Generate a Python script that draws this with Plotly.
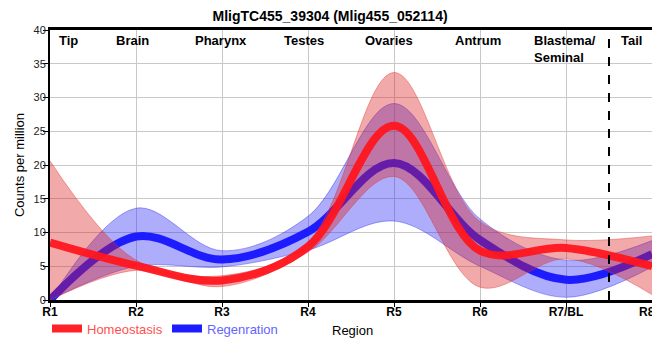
import plotly.graph_objects as go

# ---- data ----
regions = ["R1", "R2", "R3", "R4", "R5", "R6", "R7/BL", "R8/T"]
xpos = [1, 2, 3, 4, 5, 6, 7, 8]

homeo_mean = [8.5, 5.1, 2.9, 7.9, 25.8, 7.3, 7.7, 5.0]
homeo_upper = [20.6, 5.9, 3.6, 8.6, 33.7, 11.6, 8.9, 9.5]
homeo_lower = [0.0, 4.4, 2.0, 7.1, 18.3, 1.9, 6.1, 0.8]

regen_mean = [0.0, 9.4, 6.0, 10.1, 20.3, 8.9, 3.0, 6.8]
regen_upper = [0.0, 13.6, 7.3, 12.4, 29.1, 12.0, 5.9, 8.8]
regen_lower = [0.0, 5.0, 4.9, 7.4, 11.7, 5.0, 0.4, 4.9]

region_labels = ["Tip", "Brain", "Pharynx", "Testes", "Ovaries", "Antrum", "Blastema/<br>Seminal", "Tail"]
region_label_x = [1.21, 1.96, 2.99, 3.95, 4.94, 5.98, 6.99, 7.76]
tail_boundary = 7.5

title = "MligTC455_39304 (Mlig455_052114)"

NARROW = "Liberation Sans Narrow, Arial Narrow, Liberation Sans, Arial, sans-serif"
ARIAL = "Liberation Sans, Arial, sans-serif"

SM = 1.0
fig = go.Figure()

# Regeneration band
fig.add_trace(go.Scatter(x=xpos, y=regen_lower, mode="lines", line=dict(shape="spline", smoothing=SM, width=1, color="rgba(60,60,240,0.45)"),
                         showlegend=False, hoverinfo="skip"))
fig.add_trace(go.Scatter(x=xpos, y=regen_upper, mode="lines", fill="tonexty", fillcolor="rgba(40,40,245,0.38)",
                         line=dict(shape="spline", smoothing=SM, width=1, color="rgba(60,60,240,0.45)"),
                         showlegend=False, hoverinfo="skip"))
# Regeneration line
fig.add_trace(go.Scatter(x=xpos, y=regen_mean, mode="lines", name="<span style='color:#6464ff'>Regenration</span>",
                         line=dict(shape="spline", smoothing=SM, width=8, color="rgb(28,28,255)"), legendrank=2))
# Homeostasis band
fig.add_trace(go.Scatter(x=xpos, y=homeo_lower, mode="lines", line=dict(shape="spline", smoothing=SM, width=1, color="rgba(225,60,60,0.45)"),
                         showlegend=False, hoverinfo="skip"))
fig.add_trace(go.Scatter(x=xpos, y=homeo_upper, mode="lines", fill="tonexty", fillcolor="rgba(220,30,30,0.38)",
                         line=dict(shape="spline", smoothing=SM, width=1, color="rgba(225,60,60,0.45)"),
                         showlegend=False, hoverinfo="skip"))
# Homeostasis line
fig.add_trace(go.Scatter(x=xpos, y=homeo_mean, mode="lines", name="<span style='color:#ff5050'>Homeostasis</span>",
                         line=dict(shape="spline", smoothing=SM, width=8, color="rgba(255,22,30,0.95)"), legendrank=1))

for lab, lx in zip(region_labels, region_label_x):
    fig.add_annotation(x=lx, y=1.0, xref="x", yref="paper", text="<b>" + lab + "</b>", showarrow=False,
                       yanchor="top", yshift=-1, align="left",
                       font=dict(family=ARIAL, size=13, color="black"))

fig.add_shape(type="line", x0=tail_boundary, x1=tail_boundary, y0=0, y1=1, xref="x", yref="paper",
              line=dict(color="black", width=2, dash="dash"))

fig.add_annotation(x=0.503, y=-0.113, xref="paper", yref="paper", text="Region", showarrow=False,
                   yanchor="middle", xanchor="center", font=dict(family=ARIAL, size=13, color="black"))

fig.update_layout(
    width=660, height=360,
    margin=dict(l=42, r=16, t=22, b=68, autoexpand=False),
    paper_bgcolor="white", plot_bgcolor="white",
    title=dict(text="<b>" + title + "</b>", x=0.488, xanchor="center", xref="container",
               y=0.977, yanchor="middle", yref="container",
               font=dict(family=NARROW, size=14, color="black")),
    showlegend=True,
    legend=dict(orientation="h", x=-0.005, xanchor="left", y=-0.106, yanchor="middle",
                font=dict(family=NARROW, size=13), bgcolor="rgba(0,0,0,0)", itemwidth=30,
                entrywidth=75, entrywidthmode="pixels",
                tracegroupgap=0, traceorder="normal"),
    xaxis=dict(range=[1, 8], tickvals=xpos, ticktext=["<b>" + r + "</b>" for r in regions],
               showgrid=True, gridcolor="#c8c8c8", gridwidth=1, automargin=False,
               showline=True, linecolor="black", linewidth=3, mirror=True,
               ticks="outside", ticklen=4, tickcolor="black", tickwidth=1,
               ticklabelstandoff=-5, ticklabeloverflow="allow",
               tickfont=dict(family=NARROW, size=12, color="black"),
               zeroline=False),
    yaxis=dict(range=[0, 40], tickvals=[0, 5, 10, 15, 20, 25, 30, 35, 40], automargin=False,
               showgrid=True, gridcolor="#c8c8c8", gridwidth=1,
               showline=True, linecolor="black", linewidth=2, mirror=True,
               ticks="outside", ticklen=5, tickcolor="black",
               ticklabelstandoff=-5,
               tickfont=dict(family=ARIAL, size=11, color="#222222"),
               title=dict(text="Counts per million", standoff=6, font=dict(family=ARIAL, size=13, color="black")),
               zeroline=False),
)

fig.write_html("out.html")
